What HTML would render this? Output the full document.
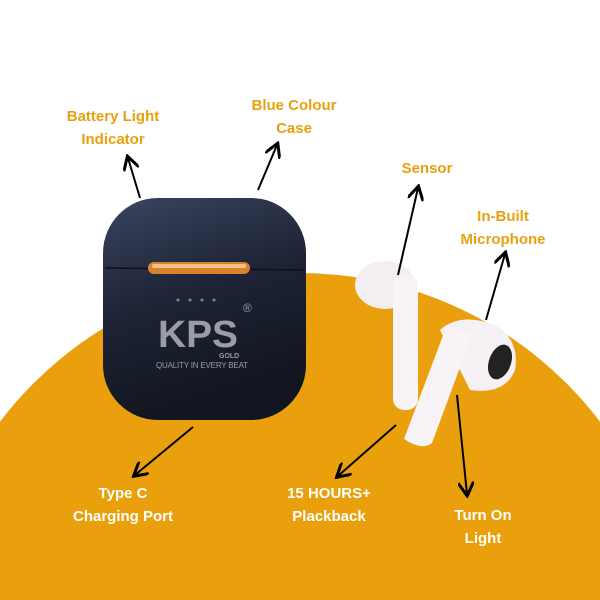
<!DOCTYPE html>
<html style="overflow:hidden;width:600px;height:600px"><head><style>
body{margin:0;width:600px;height:600px;overflow:hidden;background:#fff;font-family:"Liberation Sans",sans-serif;position:relative}
.l{position:absolute;font-weight:bold;font-size:15px;text-align:center;line-height:23px;width:200px}
.o{color:#E9A00E}.w{color:#fff}
</style></head><body>
<svg width="600" height="600" style="position:absolute;left:0;top:0;display:block">
<defs>
<linearGradient id="cs" x1="0" y1="0" x2="0.3" y2="1"><stop offset="0" stop-color="#3a4560"/><stop offset="0.5" stop-color="#1e2436"/><stop offset="1" stop-color="#11151f"/></linearGradient>
<marker id="a" markerWidth="8" markerHeight="8" refX="6" refY="4" orient="auto"><path d="M0,0 L7,4 L0,8" fill="none" stroke="#000" stroke-width="1.5"/></marker>
</defs>
<circle cx="300" cy="650" r="377" fill="#EAA00C"/>
<rect x="103" y="198" width="203" height="222" rx="55" fill="url(#cs)"/>
<line x1="105" y1="268" x2="304" y2="270" stroke="#0d1018" stroke-width="1.5"/>
<rect x="148" y="262" width="102" height="12" rx="6" fill="#d9822d"/>
<rect x="152" y="264" width="94" height="4" rx="2" fill="#f6c08a"/>
<g fill="#888"><circle cx="178" cy="300" r="1.5"/><circle cx="190" cy="300" r="1.5"/><circle cx="202" cy="300" r="1.5"/><circle cx="214" cy="300" r="1.5"/></g>
<text x="158" y="347" font-family="Liberation Sans" font-weight="bold" font-size="38" fill="#9a9ca6" textLength="80" lengthAdjust="spacingAndGlyphs">KPS</text>
<text x="243" y="312" font-family="Liberation Sans" font-size="12" fill="#9a9ca6">®</text>
<text x="219" y="358" font-family="Liberation Sans" font-weight="bold" font-size="7" fill="#9a9ca6">GOLD</text>
<text x="156" y="368" font-family="Liberation Sans" font-size="8" fill="#9a9ca6" textLength="92">QUALITY IN EVERY BEAT</text>
<ellipse cx="385" cy="285" rx="30" ry="24" fill="#f3eef2"/>
<rect x="393" y="275" width="25" height="135" rx="11" fill="#f7f3f6"/>
<path d="M440 330 q20-18 55 -5 q25 15 20 45 q-10 25 -45 20 z" fill="#f5f0f4"/>
<ellipse cx="500" cy="362" rx="11" ry="18" fill="#222" transform="rotate(20 500 362)"/>
<path d="M447 325 l25 10 l-40 108 q-10 8 -28 -4 z" fill="#f7f3f6"/>
<g stroke="#000" stroke-width="2" fill="none" marker-end="url(#a)">
<line x1="140" y1="198" x2="128" y2="158"/>
<line x1="258" y1="190" x2="277" y2="145"/>
<line x1="398" y1="275" x2="418" y2="188"/>
<line x1="486" y1="320" x2="505" y2="254"/>
<line x1="193" y1="427" x2="135" y2="475"/>
<line x1="396" y1="425" x2="338" y2="476"/>
<line x1="457" y1="395" x2="467" y2="494"/>
</g>
</svg>
<div class="l o" style="left:13px;top:105px">Battery Light<br>Indicator</div>
<div class="l o" style="left:194px;top:94px">Blue Colour<br>Case</div>
<div class="l o" style="left:327px;top:157px">Sensor</div>
<div class="l o" style="left:403px;top:205px">In-Built<br>Microphone</div>
<div class="l w" style="left:23px;top:482px">Type C<br>Charging Port</div>
<div class="l w" style="left:229px;top:482px">15 HOURS+<br>Plackback</div>
<div class="l w" style="left:383px;top:504px">Turn On<br>Light</div>
</body></html>
